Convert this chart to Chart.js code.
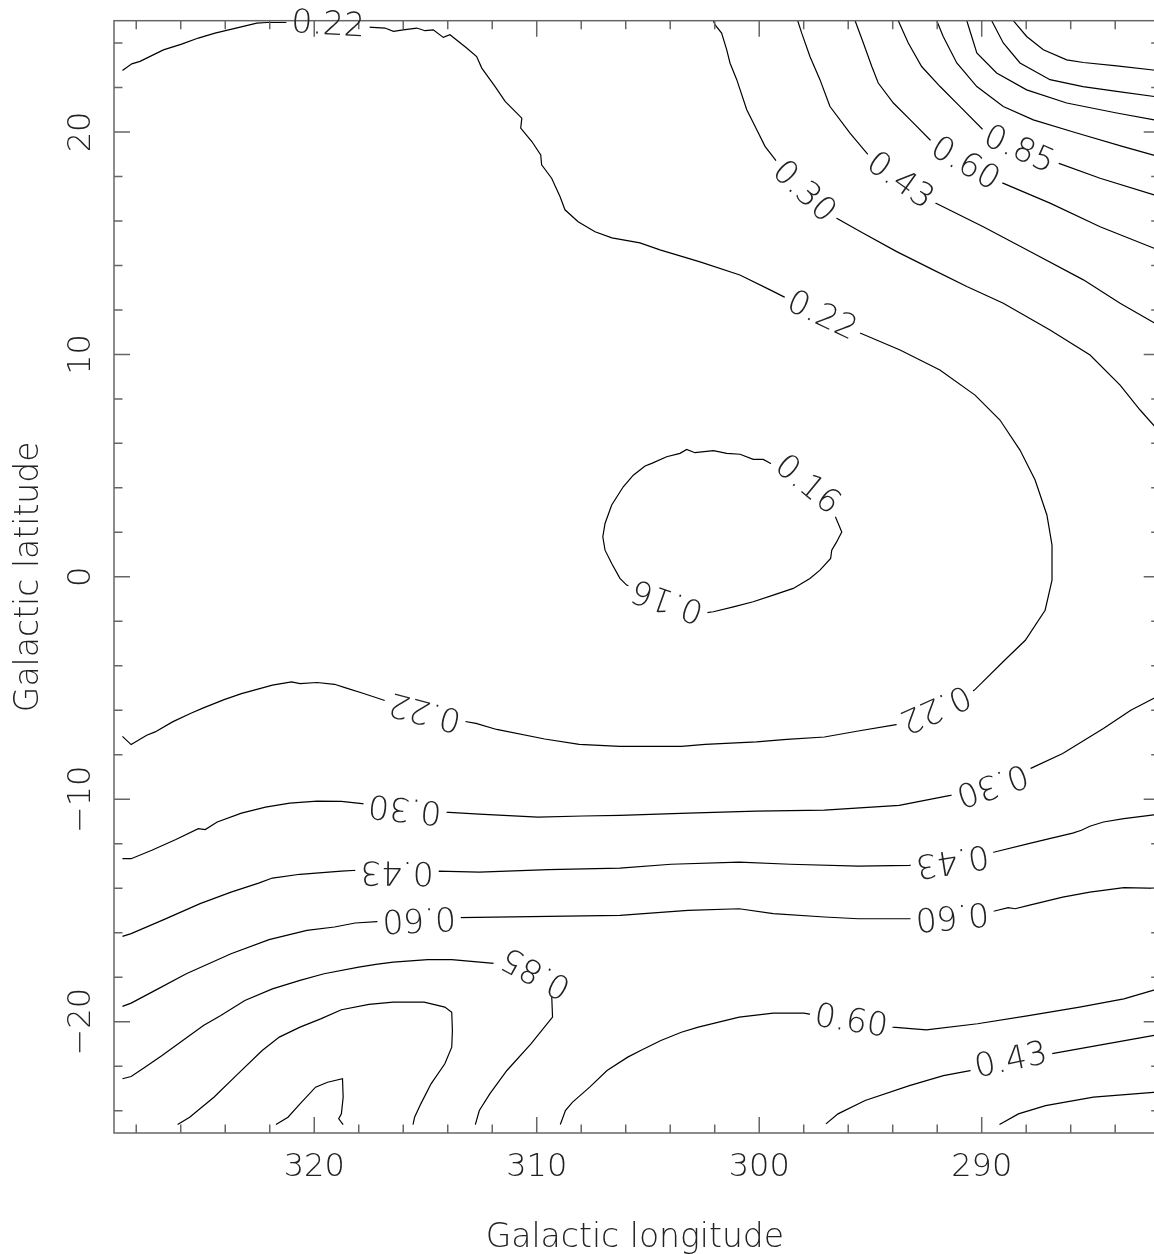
<!DOCTYPE html>
<html lang="en">
<head>
<meta charset="UTF-8">
<title>Galactic contour map</title>
<script src="https://cdn.jsdelivr.net/npm/chart.js"></script>
<style>
  html, body { margin: 0; padding: 0; background: #fff; overflow: hidden; }
  #wrap { width: 1162px; height: 1254px; }
</style>
</head>
<body>
<div id="wrap"><canvas id="map" width="1162" height="1254"></canvas></div>
<script>
// axis ticks (labelled ones)
const lonTicks = [290, 300, 310, 320];
const latTicks = [-20, -10, 0, 10, 20];

// contour lines, [longitude, latitude]
const c022 = [[328.62,22.76],[328.20,23.06],[327.83,23.17],[326.78,23.69],[325.96,23.95],[325.21,24.22],[324.46,24.44],[323.33,24.71],[322.58,24.89],[322.13,24.92],[321.16,24.92],[319.38,24.82],[317.57,24.71],[316.82,24.67],[316.44,24.52],[316.00,24.59],[315.39,24.67],[315.02,24.55],[314.65,24.59],[314.20,24.25],[313.90,24.37],[313.15,23.77],[312.70,23.39],[312.47,22.87],[311.87,22.04],[311.42,21.37],[310.67,20.62],[310.72,20.17],[310.22,19.57],[309.82,18.97],[309.78,18.52],[309.33,17.92],[308.95,17.09],[308.73,16.50],[308.14,15.96],[307.38,15.51],[306.62,15.24],[305.36,15.01],[304.46,14.70],[302.66,14.16],[300.87,13.57],[299.51,12.90],[298.62,12.45],[297.18,11.73],[295.47,10.96],[293.67,10.20],[291.88,9.30],[290.30,8.17],[289.18,7.05],[288.28,5.70],[287.60,4.35],[287.07,2.78],[286.84,1.43],[286.84,-0.15],[287.15,-1.50],[288.04,-2.85],[288.97,-3.75],[290.34,-5.10],[292.10,-5.90],[293.78,-6.63],[295.55,-6.93],[297.07,-7.20],[298.76,-7.31],[300.13,-7.42],[302.43,-7.53],[303.50,-7.62],[306.26,-7.62],[308.09,-7.53],[309.64,-7.29],[311.80,-6.86],[312.73,-6.59],[313.28,-6.49],[315.02,-6.04],[316.76,-5.58],[317.85,-5.22],[318.62,-4.98],[319.09,-4.83],[319.87,-4.75],[320.64,-4.80],[321.02,-4.72],[321.88,-4.87],[323.27,-5.25],[324.05,-5.52],[324.98,-5.89],[325.52,-6.12],[326.37,-6.52],[327.15,-6.97],[327.53,-7.12],[328.23,-7.54],[328.62,-7.17]];
const c016 = [[299.44,5.07],[297.83,4.13],[296.59,2.73],[296.29,2.02],[296.52,1.57],[296.74,1.20],[296.79,0.83],[297.27,0.30],[297.72,-0.07],[298.47,-0.52],[299.37,-0.82],[300.27,-1.12],[301.16,-1.35],[302.06,-1.57],[302.44,-1.62],[304.12,-1.05],[305.96,-0.37],[306.26,-0.07],[306.63,0.60],[306.93,1.20],[307.03,1.80],[306.93,2.40],[306.63,3.23],[306.11,4.05],[305.66,4.57],[305.13,4.98],[304.83,5.10],[304.16,5.40],[303.56,5.55],[303.26,5.73],[302.89,5.58],[302.06,5.67],[301.46,5.55],[300.86,5.51],[300.27,5.28],[299.82,5.28],[299.44,5.07]];
const c030n = [[302.06,25.0],[301.99,24.82],[301.69,24.44],[301.46,23.69],[301.31,23.09],[301.01,22.35],[300.56,21.00],[300.11,20.10],[299.74,19.35],[299.21,18.67],[297.99,17.31],[296.52,16.12],[295.32,15.45],[293.82,14.62],[292.18,13.80],[290.67,13.05],[289.03,12.30],[286.93,11.10],[285.13,9.97],[283.78,8.62],[282.88,7.50],[282.0,6.51]];
const c043n = [[298.27,25.0],[298.09,24.44],[297.72,23.39],[297.27,22.35],[296.82,21.14],[295.92,19.95],[295.10,18.97],[293.67,17.80],[292.10,16.82],[289.93,15.74],[287.68,14.55],[285.43,13.35],[283.78,12.30],[282.0,11.28]];
const c060n = [[295.69,25.0],[295.32,24.0],[294.94,22.94],[294.65,22.20],[293.97,21.30],[293.22,20.55],[292.25,19.57],[290.75,18.56],[289.10,17.72],[286.93,16.80],[284.68,15.74],[282.0,14.67]];
const c085n = [[293.75,25.0],[293.30,24.0],[292.70,22.94],[291.87,22.04],[290.97,21.14],[289.93,20.09],[288.32,19.20],[286.56,18.60],[284.68,17.92],[282.0,17.09]];
const cTop1 = [[292.02,25.0],[291.73,24.29],[291.12,23.10],[290.22,22.04],[289.03,21.14],[287.68,20.54],[285.73,19.95],[283.64,19.34],[282.0,18.88]];
const cTop2 = [[290.67,25.0],[290.22,23.55],[289.33,22.65],[287.98,21.89],[286.18,21.30],[283.93,20.85],[282.0,20.50]];
const cTop3 = [[289.55,25.0],[289.03,24.0],[288.28,23.10],[286.93,22.35],[285.45,22.04],[283.93,21.82],[282.0,21.56]];
const cTop4 = [[288.58,25.0],[287.98,24.29],[287.23,23.69],[286.18,23.24],[285.43,23.12],[283.93,22.97],[282.0,22.75]];
const c030s = [[282.0,-5.32],[283.30,-6.00],[284.53,-6.82],[286.36,-7.94],[287.82,-8.62],[289.54,-9.33],[291.41,-9.82],[293.71,-10.27],[297.07,-10.49],[300.13,-10.53],[303.20,-10.62],[306.26,-10.72],[307.93,-10.75],[309.95,-10.80],[312.58,-10.67],[314.13,-10.58],[315.92,-10.40],[317.85,-10.19],[318.78,-10.09],[319.87,-10.08],[321.10,-10.17],[322.19,-10.35],[323.27,-10.62],[324.36,-11.02],[324.90,-11.36],[325.21,-11.32],[326.22,-11.81],[327.30,-12.29],[328.23,-12.67],[328.62,-12.67]];
const c043s = [[282.0,-10.67],[283.61,-10.87],[284.53,-11.02],[285.14,-11.21],[285.52,-11.39],[285.91,-11.52],[286.67,-11.70],[287.89,-11.99],[289.42,-12.37],[291.33,-12.74],[293.25,-12.97],[295.55,-13.00],[298.61,-12.92],[300.90,-12.82],[303.96,-12.92],[306.26,-13.09],[309.48,-13.16],[312.58,-13.27],[314.44,-13.23],[316.28,-13.24],[318.08,-13.19],[318.78,-13.23],[320.64,-13.37],[321.88,-13.54],[322.50,-13.77],[323.74,-14.17],[325.13,-14.69],[326.84,-15.44],[328.23,-16.04],[328.62,-16.16]];
const c060s = [[282.0,-14.00],[283.61,-13.97],[285.14,-14.17],[286.36,-14.40],[287.89,-14.77],[288.50,-14.92],[288.81,-14.87],[289.42,-15.02],[291.33,-15.22],[293.25,-15.37],[295.55,-15.37],[297.07,-15.29],[299.37,-15.14],[300.90,-14.92],[303.20,-14.99],[306.26,-15.22],[309.48,-15.26],[313.51,-15.32],[315.29,-15.35],[317.00,-15.49],[318.16,-15.56],[319.09,-15.74],[320.33,-15.89],[322.03,-16.31],[323.74,-16.94],[325.75,-17.84],[327.15,-18.59],[328.23,-19.16],[328.62,-19.31]];
const c085s = [[312.76,-24.62],[312.58,-23.99],[312.11,-23.24],[311.34,-22.19],[310.26,-20.99],[309.29,-19.79],[309.33,-18.74],[310.02,-17.77],[311.80,-17.39],[313.82,-17.21],[314.90,-17.21],[316.45,-17.32],[317.23,-17.42],[318.00,-17.54],[319.56,-17.84],[320.64,-18.14],[321.88,-18.52],[323.12,-19.04],[324.20,-19.72],[324.98,-20.17],[325.91,-20.84],[326.84,-21.52],[327.61,-22.04],[328.23,-22.46],[328.62,-22.56]];
const cLow1 = [[326.14,-24.62],[325.60,-24.29],[324.51,-23.39],[323.43,-22.34],[322.34,-21.29],[321.57,-20.69],[320.64,-20.24],[319.71,-19.87],[318.78,-19.46],[317.54,-19.22],[316.45,-19.12],[315.06,-19.12],[314.13,-19.34],[313.82,-19.57],[313.79,-20.39],[313.82,-21.14],[314.13,-21.89],[314.75,-22.79],[315.21,-23.69],[315.49,-24.29],[315.56,-24.62]];
const cLow2 = [[321.72,-24.62],[321.18,-24.29],[320.64,-23.69],[319.94,-22.94],[319.40,-22.72],[318.73,-22.56],[318.70,-23.39],[318.78,-24.14],[318.90,-24.36],[318.70,-24.62]];
const c060se = [[308.94,-24.62],[308.71,-23.99],[308.40,-23.62],[307.62,-22.94],[306.84,-22.19],[305.91,-21.59],[305.33,-21.29],[304.42,-20.84],[303.50,-20.47],[302.74,-20.24],[300.90,-19.79],[299.37,-19.61],[297.99,-19.61],[295.87,-19.99],[294.01,-20.24],[292.49,-20.36],[290.19,-20.09],[287.89,-19.72],[285.60,-19.34],[283.61,-18.97],[282.0,-18.50]];
const c043se = [[297.00,-24.59],[296.46,-24.14],[295.24,-23.54],[293.25,-22.87],[291.72,-22.42],[290.34,-22.16],[288.68,-21.74],[286.90,-21.44],[284.83,-21.07],[282.0,-20.57]];
const c030se = [[289.20,-24.62],[288.35,-24.14],[287.13,-23.77],[284.98,-23.39],[282.0,-23.15]];

const contours = [c022, c016, c030n, c043n, c060n, c085n, cTop1, cTop2, cTop3, cTop4,
                  c030s, c043s, c060s, c085s, cLow1, cLow2, c060se, c043se, c030se];

// contour labels: which line, text, and the point on it
const contourLabels = [
  [c022, '0.22', 319.38, 24.82], [c022, '0.22', 297.18, 11.73],
  [c022, '0.22', 292.10, -5.90], [c022, '0.22', 315.02, -6.04],
  [c016, '0.16', 297.83, 4.13],  [c016, '0.16', 304.12, -1.05],
  [c030n, '0.30', 297.99, 17.31], [c043n, '0.43', 293.67, 17.80],
  [c060n, '0.60', 290.75, 18.56], [c085n, '0.85', 288.32, 19.20],
  [c030s, '0.30', 289.54, -9.33], [c030s, '0.30', 315.92, -10.40],
  [c043s, '0.43', 291.33, -12.74], [c043s, '0.43', 316.28, -13.24],
  [c060s, '0.60', 291.33, -15.22], [c060s, '0.60', 315.29, -15.35],
  [c085s, '0.85', 310.02, -17.77],
  [c060se, '0.60', 295.87, -19.99], [c043se, '0.43', 288.68, -21.74]
];

const FONT = '"DejaVu Sans", "Liberation Sans", sans-serif';
const TEXT = '#222';
const FRAME = '#666';

const mapFrame = {
  id: 'mapFrame',
  afterDatasetsDraw(chart) {
    const { ctx, chartArea: a, scales: { x, y } } = chart;
    const lblFont = '200 33px ' + FONT;

    // where each label goes and its direction along the line
    const placed = contourLabels.map(([line, text, lon, lat]) => {
      let best = 0, bd = Infinity;
      line.forEach((p, k) => {
        const d = (p[0] - lon) ** 2 + (p[1] - lat) ** 2;
        if (d < bd) { bd = d; best = k; }
      });
      const prev = line[Math.max(best - 1, 0)];
      const next = line[Math.min(best + 1, line.length - 1)];
      const ang = Math.atan2(y.getPixelForValue(next[1]) - y.getPixelForValue(prev[1]),
                             x.getPixelForValue(next[0]) - x.getPixelForValue(prev[0]));
      return { text, px: x.getPixelForValue(lon), py: y.getPixelForValue(lat), ang };
    });

    // blank the line under each label
    ctx.save();
    ctx.beginPath();
    ctx.rect(a.left + 1, a.top + 1, a.right - a.left - 2, a.bottom - a.top - 2);
    ctx.clip();
    ctx.font = lblFont;
    ctx.fillStyle = '#fff';
    placed.forEach(l => {
      const w = ctx.measureText(l.text).width + 10;
      ctx.save();
      ctx.translate(l.px, l.py);
      ctx.rotate(l.ang);
      ctx.fillRect(-w / 2, -14, w, 28);
      ctx.restore();
    });
    ctx.restore();

    // frame + inward ticks
    ctx.save();
    ctx.strokeStyle = FRAME;
    ctx.lineWidth = 1.5;
    ctx.strokeRect(a.left, a.top, a.right - a.left, a.bottom - a.top);
    ctx.beginPath();
    for (let v = 282; v <= 328; v += 2) {
      const px = x.getPixelForValue(v);
      const len = lonTicks.includes(v) ? 16 : 8.5;
      ctx.moveTo(px, a.bottom); ctx.lineTo(px, a.bottom - len);
      ctx.moveTo(px, a.top); ctx.lineTo(px, a.top + len);
    }
    for (let v = -24; v <= 24; v += 2) {
      const py = y.getPixelForValue(v);
      const len = latTicks.includes(v) ? 16 : 8.5;
      ctx.moveTo(a.left, py); ctx.lineTo(a.left + len, py);
      ctx.moveTo(a.right, py); ctx.lineTo(a.right - len, py);
    }
    ctx.stroke();
    ctx.restore();

    // contour label text
    ctx.save();
    ctx.font = lblFont;
    ctx.fillStyle = TEXT;
    ctx.textAlign = 'center';
    ctx.textBaseline = 'middle';
    placed.forEach(l => {
      ctx.save();
      ctx.translate(l.px, l.py);
      ctx.rotate(l.ang);
      ctx.fillText(l.text, 0, 1);
      ctx.restore();
    });
    ctx.restore();

    // tick labels and axis titles
    ctx.save();
    ctx.fillStyle = TEXT;
    ctx.font = '200 32px ' + FONT;
    ctx.textAlign = 'center';
    ctx.textBaseline = 'alphabetic';
    lonTicks.forEach(v => ctx.fillText(String(v), x.getPixelForValue(v), a.bottom + 43));
    latTicks.forEach(v => {
      ctx.save();
      ctx.translate(a.left - 24, y.getPixelForValue(v));
      ctx.rotate(-Math.PI / 2);
      ctx.fillText(String(v).replace('-', '\u2212'), 0, 0);
      ctx.restore();
    });
    ctx.font = '200 33px ' + FONT;
    ctx.fillText('Galactic longitude', (a.left + a.right) / 2 - 2, a.bottom + 114);
    ctx.save();
    ctx.translate(38, (a.top + a.bottom) / 2);
    ctx.rotate(-Math.PI / 2);
    ctx.fillText('Galactic latitude', 0, 0);
    ctx.restore();
    ctx.restore();
  }
};

new Chart(document.getElementById('map'), {
  type: 'scatter',
  data: {
    datasets: contours.map(line => ({
      data: line.map(p => ({ x: p[0], y: p[1] })),
      showLine: true,
      borderColor: '#000',
      borderWidth: 1.2,
      pointRadius: 0,
      pointHoverRadius: 0,
      fill: false,
      tension: 0
    }))
  },
  options: {
    responsive: false,
    animation: false,
    events: [],
    layout: { padding: { left: 114, top: 20.7, right: 2.3, bottom: 121 } },
    plugins: { legend: { display: false }, tooltip: { enabled: false } },
    scales: {
      x: { type: 'linear', min: 282, max: 329, reverse: true, display: false },
      y: { type: 'linear', min: -25, max: 25, display: false }
    }
  },
  plugins: [mapFrame]
});
</script>
</body>
</html>
